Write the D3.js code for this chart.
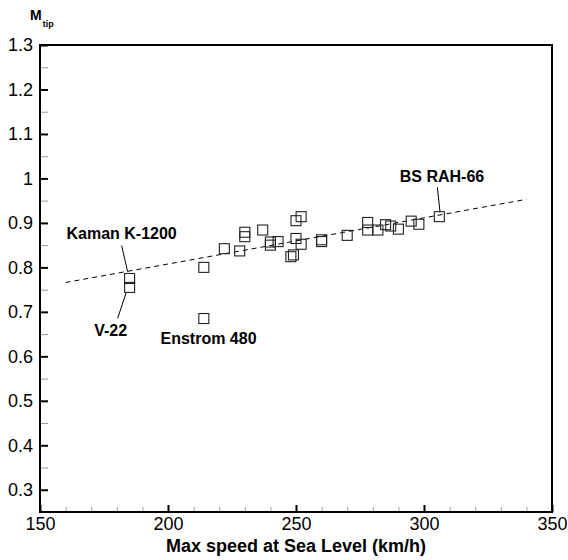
<!DOCTYPE html>
<html>
<head>
<meta charset="utf-8">
<script src="https://cdn.jsdelivr.net/npm/d3@7"></script>
<style>
  body { margin: 0; background: #fff; }
  svg { font-family: "Liberation Sans", Arial, Helvetica, sans-serif; }
</style>
</head>
<body>
<svg width="568" height="560"></svg>
<script>
// data
const speeds = [185, 185, 214, 214, 222, 228, 230, 230, 237, 240, 240, 243, 248, 249, 250, 252,
  250, 252, 260, 260, 270, 278, 278, 282, 285, 287, 290, 295, 298, 306];
const mtip = [0.775, 0.755, 0.80, 0.685, 0.842, 0.837, 0.879, 0.869, 0.884, 0.857, 0.850, 0.858,
  0.824, 0.828, 0.905, 0.914, 0.865, 0.852, 0.862, 0.858, 0.872, 0.901, 0.884, 0.884, 0.896,
  0.893, 0.886, 0.904, 0.897, 0.914];

const trendSpeed = [160, 340];
const trendMtip = [0.766, 0.953];

const xTicks = [150, 200, 250, 300, 350];
const yTicks = [0.3, 0.4, 0.5, 0.6, 0.7, 0.8, 0.9, 1, 1.1, 1.2, 1.3];

const annotNames = ['Kaman K-1200', 'V-22', 'Enstrom 480', 'BS RAH-66'];
const annotPoint = [0, 1, 3, 29];

// layout: text offset and leader line offsets from the point, in px
const annotLayout = [
  { tx: -8, ty: -40, leader: [-2, -7, -8, -33] },
  { tx: -19, ty: 48.5, leader: [-3.5, 5.5, -12, 31] },
  { tx: 4.7, ty: 25.5, leader: null },
  { tx: 2.6, ty: -34.5, leader: [0.6, -5, -2, -29.5] }
];

const plotLeft = 40, plotRight = 552, plotTop = 45, plotBottom = 512;

const svg = d3.select('svg');

const xScale = d3.scaleLinear()
  .domain([150, 350])
  .range([plotLeft, plotRight]);

const yScale = d3.scaleLinear()
  .domain([0.25, 1.3])
  .range([plotBottom, plotTop]);

// minor ticks
const xMinor = d3.range(160, 350, 10).filter((v) => v % 50 !== 0);
const yMinor = d3.range(0.35, 1.3, 0.1);

svg.append('g')
  .attr('transform', `translate(0, ${plotBottom})`)
  .call(d3.axisBottom(xScale).tickValues(xMinor).tickSizeInner(-5).tickSizeOuter(0).tickFormat(''))
  .call((g) => g.select('.domain').remove())
  .selectAll('line')
  .attr('stroke', '#999')
  .attr('stroke-width', 1);

svg.append('g')
  .attr('transform', `translate(${plotLeft}, 0)`)
  .call(d3.axisLeft(yScale).tickValues(yMinor).tickSizeInner(-8).tickSizeOuter(0).tickFormat(''))
  .call((g) => g.select('.domain').remove())
  .selectAll('line')
  .attr('stroke', '#999')
  .attr('stroke-width', 1);

// major axes
const xAxis = svg.append('g')
  .attr('transform', `translate(0, ${plotBottom})`)
  .call(d3.axisBottom(xScale).tickValues(xTicks).tickSizeInner(-7).tickSizeOuter(0).tickPadding(5));

const yAxis = svg.append('g')
  .attr('transform', `translate(${plotLeft}, 0)`)
  .call(d3.axisLeft(yScale).tickValues(yTicks).tickSizeInner(-8).tickSizeOuter(0).tickPadding(7)
    .tickFormat((d) => String(+d.toFixed(1))));

[xAxis, yAxis].forEach((ax) => {
  ax.select('.domain').remove();
  ax.selectAll('line').attr('stroke', '#000').attr('stroke-width', 2);
  ax.selectAll('text')
    .attr('fill', '#000')
    .attr('font-size', '18px')
    .attr('font-family', '"Liberation Sans", Arial, Helvetica, sans-serif');
});

// frame
svg.append('rect')
  .attr('x', plotLeft)
  .attr('y', plotTop)
  .attr('width', plotRight - plotLeft)
  .attr('height', plotBottom - plotTop)
  .attr('fill', 'none')
  .attr('stroke', '#000')
  .attr('stroke-width', 2);

// trend line
svg.append('line')
  .attr('x1', xScale(trendSpeed[0]))
  .attr('y1', yScale(trendMtip[0]))
  .attr('x2', xScale(trendSpeed[1]))
  .attr('y2', yScale(trendMtip[1]))
  .attr('stroke', '#000')
  .attr('stroke-width', 1)
  .attr('stroke-dasharray', '5,4');

// points
const size = 10;
svg.append('g')
  .selectAll('rect')
  .data(speeds.map((s, i) => ({ s, m: mtip[i] })))
  .enter()
  .append('rect')
  .attr('x', (d) => xScale(d.s) - size / 2)
  .attr('y', (d) => yScale(d.m) - size / 2)
  .attr('width', size)
  .attr('height', size)
  .attr('fill', 'none')
  .attr('stroke', '#222')
  .attr('stroke-width', 1.1);

// annotations
annotNames.forEach((name, i) => {
  const px = xScale(speeds[annotPoint[i]]);
  const py = yScale(mtip[annotPoint[i]]);
  const lay = annotLayout[i];

  if (lay.leader) {
    svg.append('line')
      .attr('x1', px + lay.leader[0])
      .attr('y1', py + lay.leader[1])
      .attr('x2', px + lay.leader[2])
      .attr('y2', py + lay.leader[3])
      .attr('stroke', '#000')
      .attr('stroke-width', 1);
  }

  svg.append('text')
    .attr('x', px + lay.tx)
    .attr('y', py + lay.ty)
    .attr('text-anchor', 'middle')
    .attr('font-size', '16px')
    .attr('font-weight', 'bold')
    .attr('fill', '#000')
    .text(name);
});

// axis titles
svg.append('text')
  .attr('x', (plotLeft + plotRight) / 2)
  .attr('y', 552)
  .attr('text-anchor', 'middle')
  .attr('font-size', '18px')
  .attr('font-weight', 'bold')
  .text('Max speed at Sea Level (km/h)');

const yTitle = svg.append('text')
  .attr('x', 30)
  .attr('y', 20)
  .attr('font-weight', 'bold');

yTitle.append('tspan')
  .attr('font-size', '14px')
  .text('M');

yTitle.append('tspan')
  .attr('font-size', '9px')
  .attr('dx', 1)
  .attr('dy', 7)
  .text('tip');
</script>
</body>
</html>
